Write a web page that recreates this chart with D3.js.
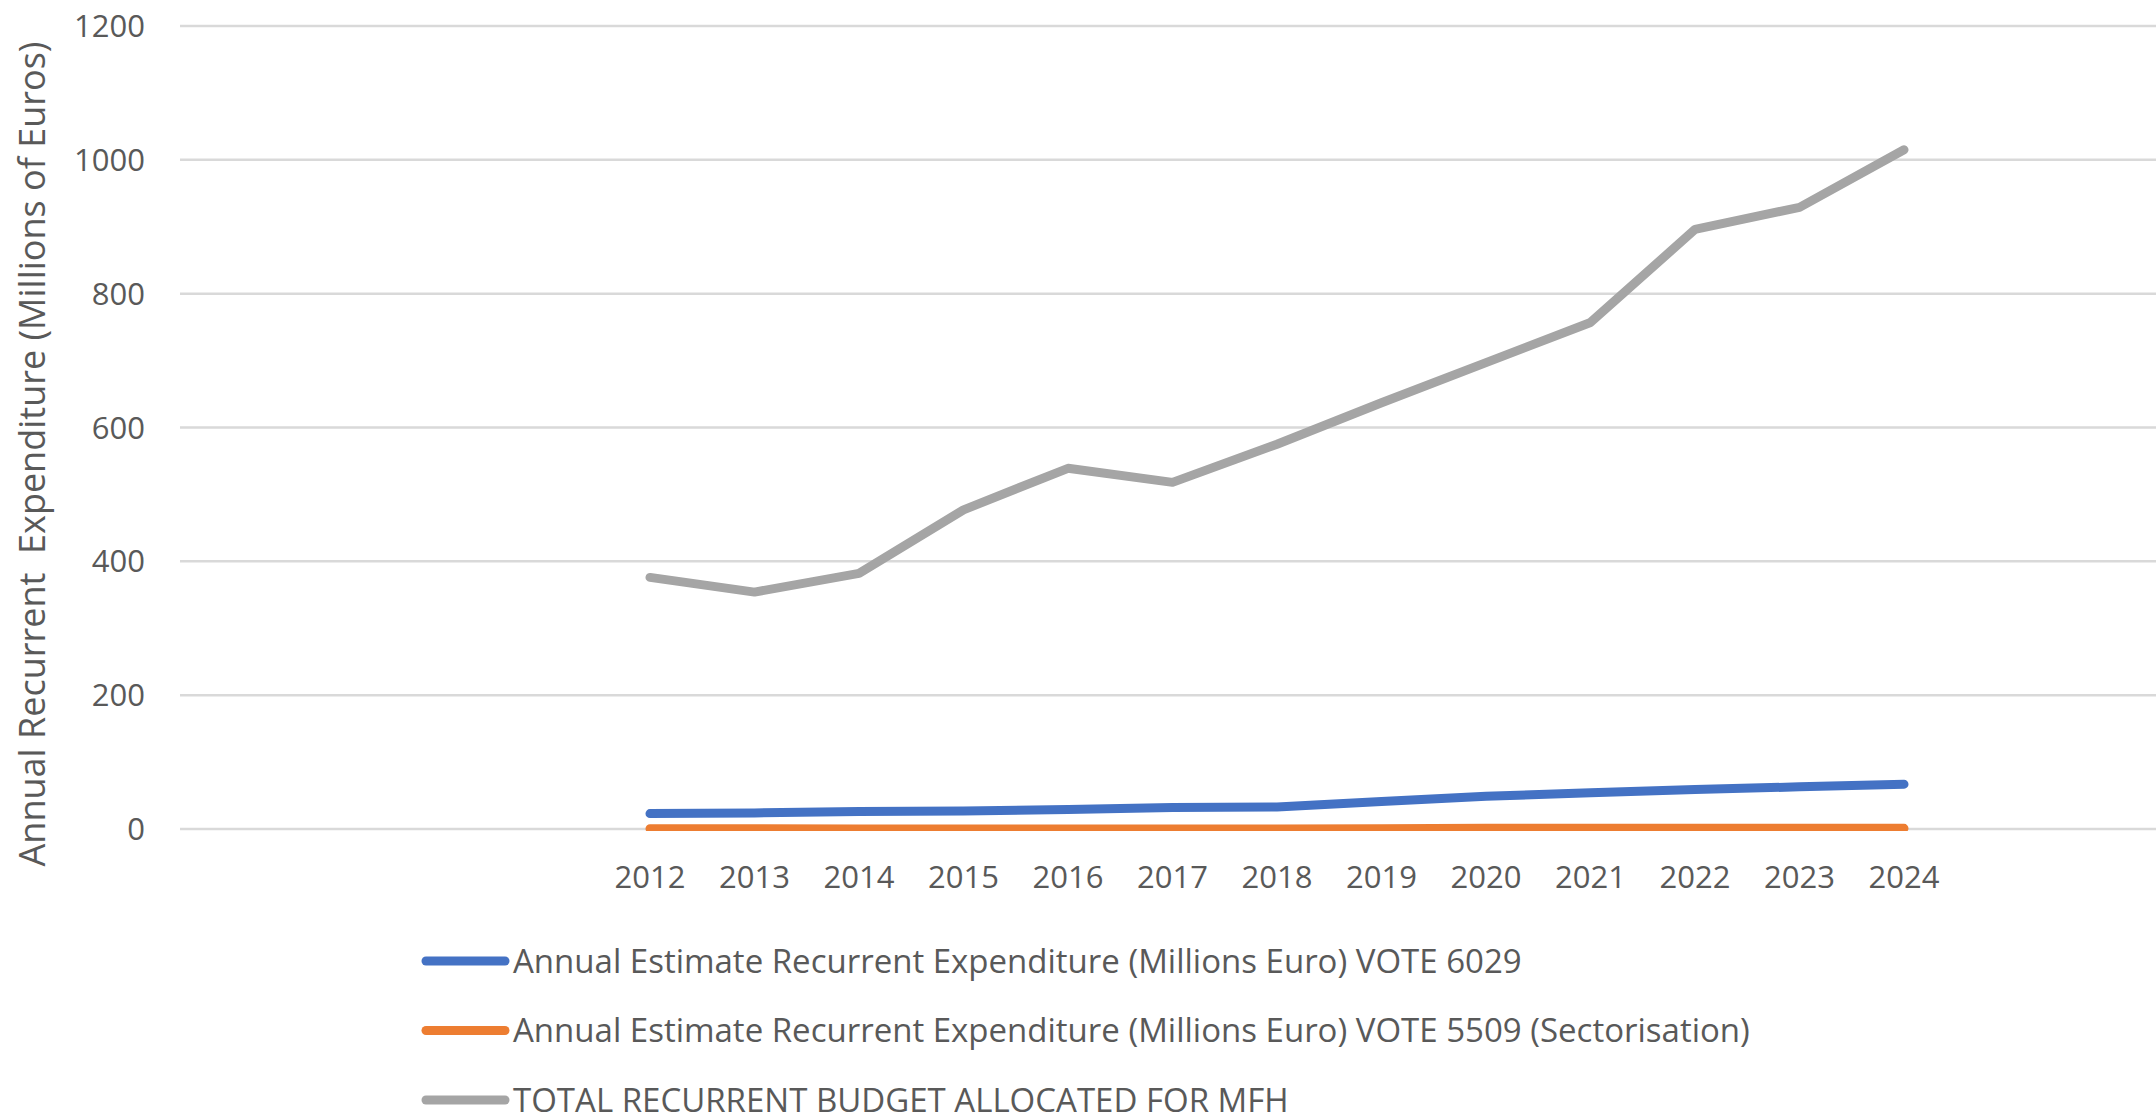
<!DOCTYPE html>
<html lang="en">
<head>
<meta charset="UTF-8">
<script src="https://d3js.org/d3.v7.min.js"></script>
<style>
body{
	margin: 0;
	background-color: white;
	font-family: "Open Sans", sans-serif;
}
text{
	fill: #595959;
}
</style>
</head>
<body>
<svg width="2156" height="1118"></svg>

<script>
// data
const years = [2012, 2013, 2014, 2015, 2016, 2017, 2018, 2019, 2020, 2021, 2022, 2023, 2024]
const vote6029 = [23, 24, 26, 27, 29, 32, 33, 41, 49, 54, 59, 63, 67]
const vote5509 = [0.5, 0.5, 0, 0, 0, 0, 0, 0.5, 1, 1, 1, 1, 1]
const totalMFH = [376, 354, 382, 477, 539, 518, 575, 637, 697, 757, 896, 929, 1015]
const yTicks = [0, 200, 400, 600, 800, 1000, 1200]
const seriesNames = [
	"Annual Estimate Recurrent Expenditure (Millions Euro) VOTE 6029",
	"Annual Estimate Recurrent Expenditure (Millions Euro) VOTE 5509 (Sectorisation)",
	"TOTAL RECURRENT BUDGET ALLOCATED FOR MFH"
]
const seriesColors = ["#4472C4", "#ED7D31", "#A5A5A5"]
const yTitle = "Annual Recurrent  Expenditure (Millions of Euros)"

const svg = d3.select("svg")

const gridLeft = 180, gridRight = 2156

const x = d3.scalePoint()
	.domain(years)
	.range([650, 1904])

const y = d3.scaleLinear()
	.domain([0, 1200])
	.range([829, 26])

// clip so the zero line only shows its upper half, like excel
svg.append("defs").append("clipPath").attr("id", "plotClip")
	.append("rect").attr("x", 0).attr("y", 0).attr("width", 2156).attr("height", 831)

// gridlines
svg.append("g").selectAll("line")
	.data(yTicks)
	.join("line")
	.attr("x1", gridLeft)
	.attr("x2", gridRight)
	.attr("y1", d => y(d))
	.attr("y2", d => y(d))
	.style("stroke", "#D9D9D9")
	.style("stroke-width", 2.5)

// y tick labels
svg.append("g").selectAll("text")
	.data(yTicks)
	.join("text")
	.attr("x", 145)
	.attr("y", d => y(d))
	.attr("dy", "0.36em")
	.attr("text-anchor", "end")
	.style("font-size", "31px")
	.text(d => d)

// x tick labels
svg.append("g").selectAll("text")
	.data(years)
	.join("text")
	.attr("x", d => x(d))
	.attr("y", 877)
	.attr("dy", "0.36em")
	.attr("text-anchor", "middle")
	.style("font-size", "31px")
	.text(d => d)

// axis title
svg.append("text")
	.attr("transform", "translate(32,454) rotate(-90)")
	.attr("dy", "0.36em")
	.attr("text-anchor", "middle")
	.style("font-size", "36px")
	.style("white-space", "pre")
	.text(yTitle)

const line = d3.line()
	.x((d, i) => x(years[i]))
	.y(d => y(d))

const allSeries = [vote6029, vote5509, totalMFH]

svg.append("g").attr("clip-path", "url(#plotClip)")
	.selectAll("path")
	.data(allSeries)
	.join("path")
	.attr("d", d => line(d))
	.style("fill", "none")
	.style("stroke", (d, i) => seriesColors[i])
	.style("stroke-width", 9)
	.style("stroke-linecap", "round")
	.style("stroke-linejoin", "round")

// legend
const legendY = d3.scalePoint()
	.domain(d3.range(seriesNames.length))
	.range([961, 1100])

const legend = svg.append("g").selectAll("g")
	.data(seriesNames)
	.join("g")
	.attr("transform", (d, i) => "translate(0," + legendY(i) + ")")

legend.append("line")
	.attr("x1", 426)
	.attr("x2", 505)
	.style("stroke", (d, i) => seriesColors[i])
	.style("stroke-width", 9)
	.style("stroke-linecap", "round")

legend.append("text")
	.attr("x", 513)
	.attr("dy", "0.36em")
	.style("font-size", "33px")
	.text(d => d)
</script>
</body>
</html>
